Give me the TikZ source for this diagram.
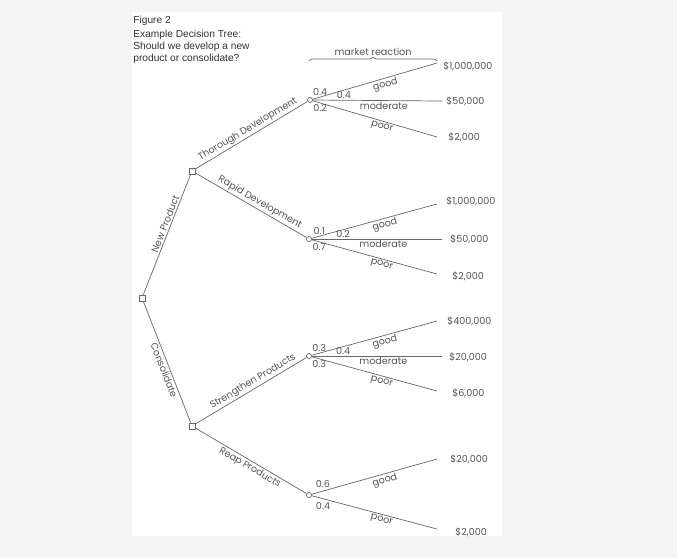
\documentclass[tikz,border=0pt]{standalone}
\usepackage{fontspec}
\setmainfont{Poppins}
\newfontfamily\capfont{Liberation Sans}
\usetikzlibrary{positioning, decorations.pathreplacing}
\definecolor{treegray}{HTML}{666666}
\definecolor{labgray}{HTML}{555555}
\definecolor{bggray}{HTML}{F4F4F4}

\begin{document}
\begin{tikzpicture}[x=1pt, y=-1pt, line width=0.7pt,
    dec/.style={rectangle, draw=treegray, fill=white, minimum size=6pt, inner sep=0pt},
    chance/.style={circle, draw=treegray, fill=white, minimum size=5pt, inner sep=0pt},
    lbl/.style={text=labgray, font=\fontsize{9.6}{11}\selectfont, inner sep=1.5pt},
    prob/.style={lbl, inner sep=1pt},
    val/.style={lbl, anchor=west, inner sep=0pt},
    captext/.style={text=black!80, font=\capfont\fontsize{10.2}{11.7}\selectfont, inner sep=0pt},
    branch/.style={draw=treegray}]

  % page and panel
  \fill[bggray] (0,0) rectangle (700,558);
  \fill[white] (677,0) rectangle (700,558);
  \fill[white] (132,12) rectangle (502,536);
  \useasboundingbox (0,0) rectangle (700,558);

  % caption
  \node[captext, anchor=base west] (fig) at (133,23) {Figure 2};
  \node[captext, anchor=north west, align=left] (title) at (133,30) {Example Decision Tree:\\Should we develop a new\\product or consolidate?};

  % decisions and chances
  \node[dec] (root) at (142,298) {};
  \node[dec] (np) at (192,171) {};
  \node[dec] (co) at (192,426) {};
  \node[chance] (td) at (310,100) {};
  \node[chance] (rd) at (309,239) {};
  \node[chance] (sp) at (309,356) {};
  \node[chance] (rp) at (309,495) {};

  % ends of the outcome lines
  \coordinate (td1) at (437,63);  \coordinate (td2) at (442,101); \coordinate (td3) at (437,137);
  \coordinate (rd1) at (437,204); \coordinate (rd2) at (442,239); \coordinate (rd3) at (437,274);
  \coordinate (sp1) at (437,321); \coordinate (sp2) at (442,356); \coordinate (sp3) at (437,391);
  \coordinate (rp1) at (437,459); \coordinate (rp3) at (437,529);

  % payoffs
  \node[val] (vtd1) at (443,66) {\$1,000,000};
  \node[val] (vtd2) at (446,101) {\$50,000};
  \node[val] (vtd3) at (448,137) {\$2,000};
  \node[val] (vrd1) at (446,201) {\$1,000,000};
  \node[val] (vrd2) at (450,239) {\$50,000};
  \node[val] (vrd3) at (452,276) {\$2,000};
  \node[val] (vsp1) at (447,321) {\$400,000};
  \node[val] (vsp2) at (449,357) {\$20,000};
  \node[val] (vsp3) at (452,393) {\$6,000};
  \node[val] (vrp1) at (450,459) {\$20,000};
  \node[val] (vrp3) at (455,532) {\$2,000};

  % market reaction brace
  \draw[branch, decorate, decoration={brace, amplitude=4pt}] (309,61) -- (437,61)
    node[lbl, midway, above=3.5pt] (mr) {market reaction};

  % first choices
  \draw[branch] (root) -- node[lbl, sloped, above, pos=0.57] {New Product} (np);
  \draw[branch] (root) -- node[lbl, sloped, below, pos=0.55] {Consolidate} (co);
  \draw[branch] (np) -- node[lbl, sloped, above] {Thorough Development} (td);
  \draw[branch] (np) -- node[lbl, sloped, above, pos=0.55] {Rapid Development} (rd);
  \draw[branch] (co) -- node[lbl, sloped, above, pos=0.55] {Strengthen Products} (sp);
  \draw[branch] (co) -- node[lbl, sloped, below, pos=0.52] {Reap Products} (rp);

  % outcomes
  \draw[branch] (td) -- node[prob, pos=0.06, above] {0.4} node[lbl, sloped, below, pos=0.57] {good} (td1);
  \draw[branch] (td) -- node[prob, pos=0.24, above] {0.4} node[lbl, below, pos=0.55] {moderate} (td2);
  \draw[branch] (td) -- node[prob, pos=0.06, below] {0.2} node[lbl, sloped, below, pos=0.57] {poor} (td3);

  \draw[branch] (rd) -- node[prob, pos=0.06, above] {0.1} node[lbl, sloped, below, pos=0.57] {good} (rd1);
  \draw[branch] (rd) -- node[prob, pos=0.24, above] {0.2} node[lbl, below, pos=0.55] {moderate} (rd2);
  \draw[branch] (rd) -- node[prob, pos=0.06, below] {0.7} node[lbl, sloped, below, pos=0.57] {poor} (rd3);

  \draw[branch] (sp) -- node[prob, pos=0.06, above] {0.3} node[lbl, sloped, below, pos=0.57] {good} (sp1);
  \draw[branch] (sp) -- node[prob, pos=0.24, above] {0.4} node[lbl, below, pos=0.55] {moderate} (sp2);
  \draw[branch] (sp) -- node[prob, pos=0.06, below] {0.3} node[lbl, sloped, below, pos=0.57] {poor} (sp3);

  \draw[branch] (rp) -- node[prob, pos=0.09, above=2pt] {0.6} node[lbl, sloped, below, pos=0.57] {good} (rp1);
  \draw[branch] (rp) -- node[prob, pos=0.09, below=2pt] {0.4} node[lbl, sloped, below, pos=0.57] {poor} (rp3);
\end{tikzpicture}
\end{document}
